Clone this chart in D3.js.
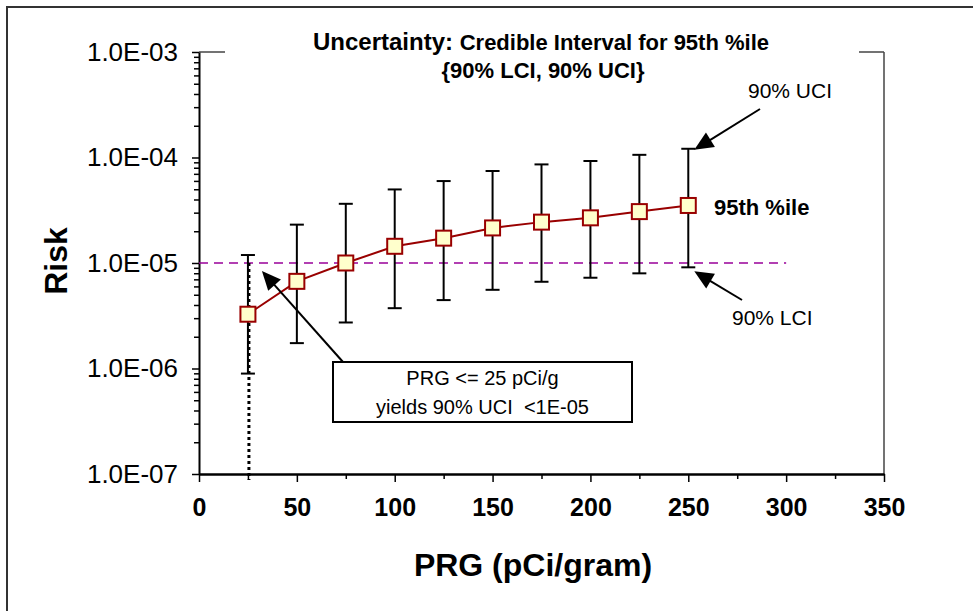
<!DOCTYPE html>
<html>
<head>
<meta charset="utf-8">
<script src="https://cdn.jsdelivr.net/npm/d3@7"></script>
<style>
  html, body { margin: 0; padding: 0; background: #fff; }
  svg { display: block; font-family: "Liberation Sans", Arial, sans-serif; }
</style>
</head>
<body>
<svg id="chart" width="973" height="611"></svg>
<script>
// ---------- data ----------
const prg = [25, 50, 75, 100, 125, 150, 175, 200, 225, 250];
const risk95 = [3.27e-6, 6.7e-6, 1.0e-5, 1.44e-5, 1.72e-5, 2.15e-5, 2.44e-5, 2.68e-5, 3.07e-5, 3.51e-5];
const uci90 = [1.19e-5, 2.31e-5, 3.64e-5, 4.98e-5, 5.98e-5, 7.45e-5, 8.6e-5, 9.27e-5, 1.06e-4, 1.21e-4];
const lci90 = [8.95e-7, 1.74e-6, 2.73e-6, 3.73e-6, 4.45e-6, 5.57e-6, 6.64e-6, 7.25e-6, 7.98e-6, 9.1e-6];
const xTicks = [0, 50, 100, 150, 200, 250, 300, 350];
const xMinorTicks = [25, 75, 125, 175, 225, 275, 325];
const yTicks = [1e-7, 1e-6, 1e-5, 1e-4, 1e-3];
const threshold = 1e-5;
const thresholdRange = [0, 300];
const prgLimit = 25;
const titleLine1a = "Uncertainty:";
const titleLine1b = "Credible Interval for 95th %ile";
const titleLine2 = "{90% LCI, 90% UCI}";
const xTitle = "PRG (pCi/gram)";
const yTitle = "Risk";
const seriesLabel = "95th %ile";
const uciLabel = "90% UCI";
const lciLabel = "90% LCI";
const boxLines = ["PRG <= 25 pCi/g", "yields 90% UCI  <1E-05"];

// ---------- setup ----------
const svg = d3.select("#chart");
const L = 199, R = 884, T = 52, B = 474;
const x = d3.scaleLinear().domain([0, 350]).range([L, R]);
const y = d3.scaleLog().domain([1e-7, 1e-3]).range([B, T]);

// outer chart border
svg.append("rect").attr("x", 7).attr("y", 7).attr("width", 1100).attr("height", 800)
  .attr("fill", "none").attr("stroke", "#333").attr("stroke-width", 2);

// plot area borders (right + partial top)
svg.append("line").attr("x1", R).attr("x2", R).attr("y1", T).attr("y2", B)
  .attr("stroke", "#444").attr("stroke-width", 1.5);
svg.append("line").attr("x1", L).attr("x2", L + 26).attr("y1", T).attr("y2", T)
  .attr("stroke", "#444").attr("stroke-width", 1.5);
svg.append("line").attr("x1", R - 25).attr("x2", R).attr("y1", T).attr("y2", T)
  .attr("stroke", "#444").attr("stroke-width", 1.5);

// minor y ticks
const yMinor = [];
for (let e = -7; e < -3; e++) for (let m = 2; m <= 9; m++) yMinor.push(m * Math.pow(10, e));
svg.append("g").attr("transform", `translate(${L},0)`)
  .call(d3.axisLeft(y).tickValues(yMinor).tickSize(5).tickSizeOuter(0).tickFormat(""))
  .call(g => g.select(".domain").remove())
  .call(g => g.selectAll("line").attr("stroke", "#000").attr("stroke-width", 1.5));

// major y axis
const fmtE = d => {
  const e = Math.round(Math.log10(d));
  return "1.0E" + (e < 0 ? "-" : "+") + String(Math.abs(e)).padStart(2, "0");
};
svg.append("g").attr("transform", `translate(${L},0)`)
  .call(d3.axisLeft(y).tickValues(yTicks).tickSize(7).tickSizeOuter(0).tickPadding(14).tickFormat(fmtE))
  .call(g => g.select(".domain").attr("stroke", "#000").attr("stroke-width", 2))
  .call(g => g.selectAll("line").attr("stroke", "#000").attr("stroke-width", 1.5))
  .call(g => g.selectAll("text").attr("fill", "#000").style("font-size", "26px")
    .style("font-family", "'Liberation Sans', Arial, sans-serif"));

// minor x ticks
svg.append("g").attr("transform", `translate(0,${B})`)
  .call(d3.axisBottom(x).tickValues(xMinorTicks).tickSize(5).tickSizeOuter(0).tickFormat(""))
  .call(g => g.select(".domain").remove())
  .call(g => g.selectAll("line").attr("stroke", "#000").attr("stroke-width", 1.5));

// major x axis
svg.append("g").attr("transform", `translate(0,${B})`)
  .call(d3.axisBottom(x).tickValues(xTicks).tickSize(8).tickSizeOuter(0).tickPadding(16))
  .call(g => g.select(".domain").attr("stroke", "#000").attr("stroke-width", 2.5))
  .call(g => g.selectAll("line").attr("stroke", "#000").attr("stroke-width", 1.5))
  .call(g => g.selectAll("text").attr("fill", "#000").style("font-size", "25px")
    .style("font-weight", "bold").style("font-family", "'Liberation Sans', Arial, sans-serif"));

// threshold dashed line
svg.append("line")
  .attr("x1", x(thresholdRange[0])).attr("x2", x(thresholdRange[1]))
  .attr("y1", y(threshold)).attr("y2", y(threshold))
  .attr("stroke", "#990099").attr("stroke-width", 1.5).attr("stroke-dasharray", "9,6");

// error bars
const data = prg.map((p, i) => ({ p, v: risk95[i], hi: uci90[i], lo: lci90[i] }));
const eb = svg.append("g").attr("stroke", "#000").attr("stroke-width", 2);
data.forEach(d => {
  eb.append("line").attr("x1", x(d.p)).attr("x2", x(d.p)).attr("y1", y(d.hi)).attr("y2", y(d.lo));
  eb.append("line").attr("x1", x(d.p) - 7).attr("x2", x(d.p) + 7).attr("y1", y(d.hi)).attr("y2", y(d.hi));
  eb.append("line").attr("x1", x(d.p) - 7).attr("x2", x(d.p) + 7).attr("y1", y(d.lo)).attr("y2", y(d.lo));
});

// dotted PRG limit line
svg.append("line")
  .attr("x1", x(prgLimit) + 1).attr("x2", x(prgLimit) + 1)
  .attr("y1", y(threshold)).attr("y2", B + 6)
  .attr("stroke", "#000").attr("stroke-width", 3).attr("stroke-dasharray", "3,3");

// series line
svg.append("path").datum(data)
  .attr("d", d3.line().x(d => x(d.p)).y(d => y(d.v)))
  .attr("fill", "none").attr("stroke", "#990000").attr("stroke-width", 2);

// markers
svg.append("g").selectAll("rect").data(data).join("rect")
  .attr("x", d => x(d.p) - 7.5).attr("y", d => y(d.v) - 7.5)
  .attr("width", 15).attr("height", 15)
  .attr("fill", "#FFFFCC").attr("stroke", "#990000").attr("stroke-width", 2);

// arrows
function arrow(x1, y1, x2, y2) {
  const dx = x2 - x1, dy = y2 - y1, len = Math.hypot(dx, dy);
  const ux = dx / len, uy = dy / len, hl = 19, hw = 8.5;
  const bx = x2 - ux * hl, by = y2 - uy * hl;
  svg.append("line").attr("x1", x1).attr("y1", y1).attr("x2", bx + ux * 2).attr("y2", by + uy * 2)
    .attr("stroke", "#000").attr("stroke-width", 2);
  svg.append("polygon")
    .attr("points", [[x2, y2], [bx - uy * hw, by + ux * hw], [bx + uy * hw, by - ux * hw]].map(p => p.join(",")).join(" "))
    .attr("fill", "#000");
}
const last = data[data.length - 1];
arrow(760, 109, x(last.p) + 6, y(last.hi) + 1);
arrow(742, 300, x(last.p) + 6, y(last.lo) + 4);

// annotation box
const box = { x: 333, y: 362, w: 299, h: 60 };
arrow(box.x + 10, box.y, x(prgLimit) + 14, y(threshold) + 8);
svg.append("rect").attr("x", box.x).attr("y", box.y).attr("width", box.w).attr("height", box.h)
  .attr("fill", "#fff").attr("stroke", "#000").attr("stroke-width", 2);
boxLines.forEach((t, i) => {
  svg.append("text").attr("x", box.x + box.w / 2).attr("y", box.y + 23 + i * 29)
    .attr("text-anchor", "middle").style("font-size", "20px").style("white-space", "pre")
    .text(t);
});

// labels
svg.append("text").attr("x", 748).attr("y", 98).style("font-size", "21px").text(uciLabel);
svg.append("text").attr("x", 732).attr("y", 325).style("font-size", "21px").text(lciLabel);
svg.append("text").attr("x", 714).attr("y", 215).style("font-size", "22px").style("font-weight", "bold").text(seriesLabel);

// title
const t1 = svg.append("text").attr("x", 541).attr("y", 50).attr("text-anchor", "middle")
  .style("font-weight", "bold");
t1.append("tspan").style("font-size", "24px").text(titleLine1a + " ");
t1.append("tspan").style("font-size", "22px").text(titleLine1b);
svg.append("text").attr("x", 543).attr("y", 78).attr("text-anchor", "middle")
  .style("font-weight", "bold").style("font-size", "22px").text(titleLine2);

// axis titles
svg.append("text").attr("x", 533).attr("y", 576).attr("text-anchor", "middle")
  .style("font-weight", "bold").style("font-size", "32px").text(xTitle);
svg.append("text").attr("transform", "translate(67,261) rotate(-90)").attr("text-anchor", "middle")
  .style("font-weight", "bold").style("font-size", "32px").text(yTitle);
</script>
</body>
</html>
